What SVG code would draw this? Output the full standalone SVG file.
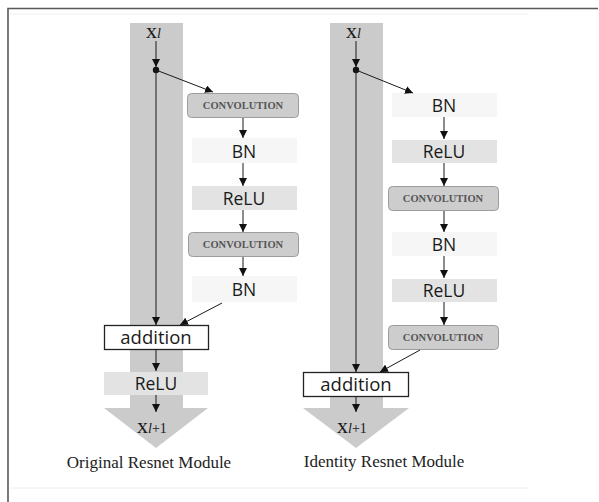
<svg xmlns="http://www.w3.org/2000/svg" width="599" height="502" viewBox="0 0 599 502">
  <style>
    .band { fill: #cbcbcb; }
    .conv { fill: #cdcdcd; stroke: #9c9c9c; stroke-width: 1; }
    .bn { fill: #f6f6f6; }
    .relu { fill: #e3e3e3; }
    .add { fill: #ffffff; stroke: #222222; stroke-width: 1.3; }
    .convt { font-family: "Liberation Serif", serif; font-weight: bold; font-size: 10.5px; fill: #555555; text-anchor: middle; }
    .lab { font-family: "Open Sans", "DejaVu Sans", sans-serif; font-size: 17.5px; fill: #1a1a1a; text-anchor: middle; }
    .addt { font-family: "Open Sans", "DejaVu Sans", sans-serif; font-size: 18.5px; fill: #1a1a1a; text-anchor: middle; }
    .var { font-family: "Liberation Serif", serif; font-size: 22px; fill: #1a1a1a; }
    .sub { font-size: 14px; }
    .cap { font-family: "Liberation Serif", serif; font-size: 17px; fill: #222222; text-anchor: middle; }
    .ln { stroke: #1a1a1a; stroke-width: 1; fill: none; }
  </style>
  <defs>
    <marker id="ah" viewBox="0 0 10 10" refX="10" refY="5" markerWidth="8" markerHeight="8" markerUnits="userSpaceOnUse" orient="auto">
      <path d="M0,0 L10,5 L0,10 z" fill="#111111"/>
    </marker>
  </defs>

  <rect width="599" height="502" fill="#ffffff"/>
  <!-- frame -->
  <path d="M8,502 V8.5 H598" fill="none" stroke="#5a5a5a" stroke-width="1.6"/>
  <line x1="10" y1="14" x2="528" y2="14" stroke="#f0f0f0" stroke-width="1"/>
  <line x1="10" y1="488" x2="528" y2="488" stroke="#eeeeee" stroke-width="1"/>

  <!-- identity paths (wide gray arrows) -->
  <g id="path-left">
    <rect class="band" x="130" y="23" width="53" height="386"/>
    <polygon class="band" points="104,408 208,408 156,448"/>
  </g>
  <g id="path-right">
    <rect class="band" x="330" y="23" width="53" height="386"/>
    <polygon class="band" points="303,408 409,408 356,448"/>
  </g>

  <!-- Original Resnet Module -->
  <g id="xl-left"><text class="var" x="146" y="38">x<tspan class="sub" font-style="italic">l</tspan></text></g>
  <g id="conv1-left"><rect class="conv" x="187.5" y="93.5" width="111" height="24" rx="4"/><text class="convt" x="243" y="109">CONVOLUTION</text></g>
  <g id="bn1-left"><rect class="bn" x="192" y="138" width="105" height="25"/><text class="lab" x="244" y="157.5">BN</text></g>
  <g id="relu1-left"><rect class="relu" x="192" y="186" width="105" height="24"/><text class="lab" x="244" y="204.5">ReLU</text></g>
  <g id="conv2-left"><rect class="conv" x="188.5" y="232.5" width="110" height="24" rx="4"/><text class="convt" x="243" y="248">CONVOLUTION</text></g>
  <g id="bn2-left"><rect class="bn" x="192" y="276" width="105" height="26"/><text class="lab" x="244" y="296">BN</text></g>
  <g id="add-left"><rect class="add" x="104.5" y="325.5" width="104" height="24"/><text class="addt" x="156" y="344">addition</text></g>
  <g id="relu2-left"><rect class="relu" x="104" y="372" width="104" height="23"/><text class="lab" x="156" y="390">ReLU</text></g>
  <g id="xl1-left"><text class="var" x="137" y="433">x<tspan class="sub" font-style="italic" font-size="16px">l</tspan><tspan class="sub" font-size="16px">+1</tspan></text></g>
  <g id="caption-left"><text class="cap" x="149" y="468">Original Resnet Module</text></g>

  <!-- Identity Resnet Module -->
  <g id="xl-right"><text class="var" x="346" y="38">x<tspan class="sub" font-style="italic">l</tspan></text></g>
  <g id="bn1-right"><rect class="bn" x="392" y="93" width="105" height="24"/><text class="lab" x="444" y="111.5">BN</text></g>
  <g id="relu1-right"><rect class="relu" x="392" y="140" width="105" height="23"/><text class="lab" x="444" y="158">ReLU</text></g>
  <g id="conv1-right"><rect class="conv" x="388.5" y="186.5" width="110" height="24" rx="4"/><text class="convt" x="443" y="202">CONVOLUTION</text></g>
  <g id="bn2-right"><rect class="bn" x="392" y="232" width="105" height="24"/><text class="lab" x="444" y="250.5">BN</text></g>
  <g id="relu2-right"><rect class="relu" x="392" y="279" width="105" height="23"/><text class="lab" x="444" y="297">ReLU</text></g>
  <g id="conv2-right"><rect class="conv" x="388.5" y="325.5" width="110" height="24" rx="4"/><text class="convt" x="443" y="341">CONVOLUTION</text></g>
  <g id="add-right"><rect class="add" x="303.5" y="372.5" width="105" height="24"/><text class="addt" x="356" y="391">addition</text></g>
  <g id="xl1-right"><text class="var" x="337" y="433">x<tspan class="sub" font-style="italic" font-size="16px">l</tspan><tspan class="sub" font-size="16px">+1</tspan></text></g>
  <g id="caption-right"><text class="cap" x="384" y="467">Identity Resnet Module</text></g>

  <!-- connectors -->
  <g id="connectors">
    <!-- left module -->
    <line class="ln" x1="156" y1="41" x2="156" y2="67" marker-end="url(#ah)"/>
    <circle cx="156" cy="70" r="3.2" fill="#111111"/>
    <line class="ln" x1="156" y1="70" x2="156" y2="325" marker-end="url(#ah)" stroke-width="1.2"/>
    <line class="ln" x1="156" y1="70" x2="213" y2="92" marker-end="url(#ah)"/>
    <line class="ln" x1="243" y1="118" x2="243" y2="138" marker-end="url(#ah)"/>
    <line class="ln" x1="243" y1="163" x2="243" y2="186" marker-end="url(#ah)"/>
    <line class="ln" x1="243" y1="210" x2="243" y2="232" marker-end="url(#ah)"/>
    <line class="ln" x1="243" y1="257" x2="243" y2="276" marker-end="url(#ah)"/>
    <line class="ln" x1="222" y1="303" x2="180" y2="325" marker-end="url(#ah)"/>
    <line class="ln" x1="156" y1="350" x2="156" y2="371" marker-end="url(#ah)"/>
    <line class="ln" x1="156" y1="395" x2="156" y2="412" marker-end="url(#ah)"/>
    <!-- right module -->
    <line class="ln" x1="356" y1="41" x2="356" y2="67" marker-end="url(#ah)"/>
    <circle cx="356" cy="70" r="3.2" fill="#111111"/>
    <line class="ln" x1="356" y1="70" x2="356" y2="372" marker-end="url(#ah)" stroke-width="1.2"/>
    <line class="ln" x1="356" y1="70" x2="413" y2="93" marker-end="url(#ah)"/>
    <line class="ln" x1="444" y1="117" x2="444" y2="139" marker-end="url(#ah)"/>
    <line class="ln" x1="444" y1="163" x2="444" y2="186" marker-end="url(#ah)"/>
    <line class="ln" x1="444" y1="211" x2="444" y2="232" marker-end="url(#ah)"/>
    <line class="ln" x1="444" y1="256" x2="444" y2="278" marker-end="url(#ah)"/>
    <line class="ln" x1="444" y1="302" x2="444" y2="325" marker-end="url(#ah)"/>
    <line class="ln" x1="420" y1="350" x2="380" y2="372" marker-end="url(#ah)"/>
    <line class="ln" x1="356" y1="397" x2="356" y2="412" marker-end="url(#ah)"/>
  </g>
</svg>
